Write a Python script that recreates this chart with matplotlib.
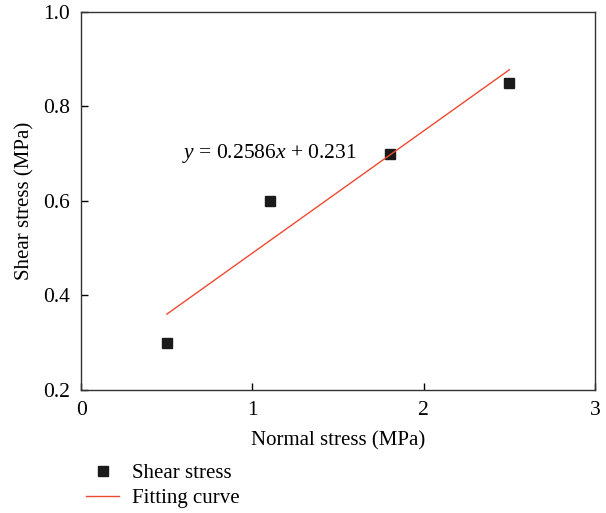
import matplotlib
matplotlib.use("Agg")
import matplotlib.pyplot as plt
import numpy as np

plt.rcParams['font.family'] = ['Liberation Serif', 'DejaVu Serif']
plt.rcParams['mathtext.fontset'] = 'custom'
plt.rcParams['mathtext.rm'] = 'Liberation Serif'
plt.rcParams['mathtext.it'] = 'Liberation Serif:italic'

# data
normal_stress = [0.5, 1.1, 1.8, 2.5]
shear_stress = [0.30, 0.60, 0.70, 0.85]
slope = 0.2586
intercept = 0.231
fit_x = [0.5, 2.5]

fig = plt.figure(figsize=(6.06, 5.13), dpi=100)
ax = fig.add_axes([0.134, 0.240, 0.848, 0.737])

ax.plot(normal_stress, shear_stress, 's', color='#1a1a1a', markersize=7,
        label='Shear stress', linestyle='none')
fx = np.array(fit_x)
ax.plot(fx, slope * fx + intercept, color='#ee4a32', linewidth=1.0,
        label='Fitting curve')

ax.text(0.59, 0.70, r'$y$ = 0.2586$x$ + 0.231', fontsize=15.5, va='center', ha='left')

ax.set_xlim(0, 3)
ax.set_ylim(0.2, 1.0)
ax.set_xticks([0, 1, 2, 3])
ax.set_yticks([0.2, 0.4, 0.6, 0.8, 1.0])
ax.set_yticklabels(['0.2', '0.4', '0.6', '0.8', '1.0'])
ax.tick_params(direction='in', length=5, width=1, labelsize=15.5, pad=8,
               top=False, right=False)
for s in ax.spines.values():
    s.set_linewidth(1.0)
    s.set_color('#333333')

ax.set_xlabel('Normal stress (MPa)', fontsize=15, labelpad=8)
ax.set_ylabel('Shear stress (MPa)', fontsize=15, labelpad=6)

fig.legend(loc='upper left', bbox_to_anchor=(0.128, 0.112), frameon=False,
           fontsize=15, handlelength=1.6, handletextpad=0.6, labelspacing=0.25,
           borderaxespad=0)

fig.savefig('out.png', dpi=100)
